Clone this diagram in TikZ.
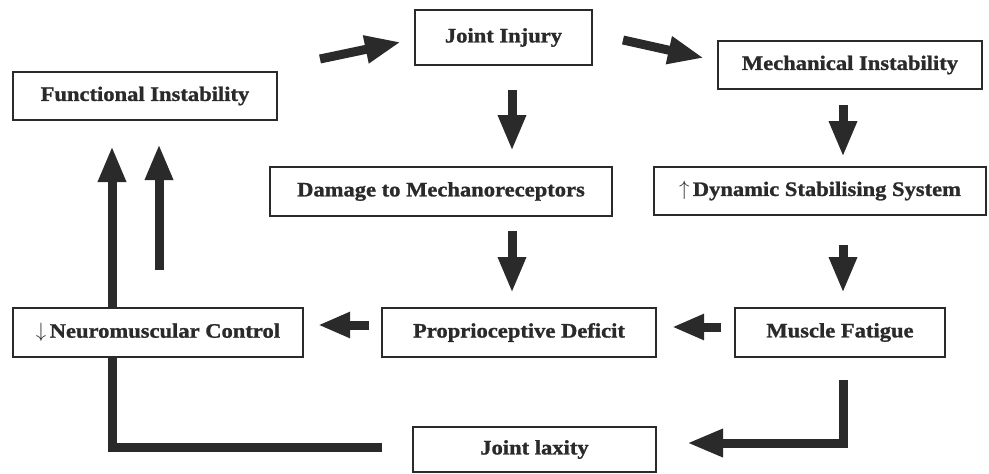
\documentclass[tikz,border=0pt]{standalone}
\usepackage{fontspec}
\setmainfont[FakeStretch=1.1,BoldFeatures={FakeBold=1.2}]{Liberation Serif}
\usetikzlibrary{arrows.meta}
\definecolor{ink}{HTML}{2A2A2A}
\begin{document}
\begin{tikzpicture}[x=1pt,y=-1pt,
  box/.style={draw=ink, line width=1.6pt, inner sep=0pt, text=ink,
    font=\fontsize{20.5}{22}\selectfont\bfseries},
  fat/.style={draw=ink, line width=9pt, line join=miter,
    -{Triangle[width=26pt,length=36pt]}},
  short/.style={draw=ink, line width=9pt,
    -{Triangle[width=24pt,length=32pt]}},
  bar/.style={draw=ink, line width=9pt, line join=miter}]
\useasboundingbox (0,0) rectangle (989,474);
% boxes
\node[box, minimum width=177pt, minimum height=55pt] (ji) at (503.5,37.5) {Joint Injury};
\node[box, minimum width=264pt, minimum height=48pt] (fi) at (145,96) {Functional Instability};
\node[box, minimum width=264pt, minimum height=48pt] (mi) at (850,65) {Mechanical Instability};
\node[box, minimum width=342pt, minimum height=49pt] (dm) at (441,191.5) {Damage to Mechanoreceptors};
\node[box, minimum width=332pt, minimum height=48pt] (ds) at (820,191) {$\uparrow$\,Dynamic Stabilising System};
\node[box, minimum width=290pt, minimum height=49pt] (nc) at (158,332.5) {$\downarrow$\,Neuromuscular Control};
\node[box, minimum width=274pt, minimum height=49pt] (pd) at (519,332.5) {Proprioceptive Deficit};
\node[box, minimum width=210pt, minimum height=49pt] (mf) at (840,332.5) {Muscle Fatigue};
\node[box, minimum width=243pt, minimum height=45pt] (jl) at (534.5,449.5) {Joint laxity};
% arrow end points
\coordinate (a1s) at (320,59);  \coordinate (a1e) at (401,42);
\coordinate (a2s) at (623,40);  \coordinate (a2e) at (704,58);
\coordinate (a3s) at (512,90);  \coordinate (a3e) at (512,151);
\coordinate (a4s) at (843,105); \coordinate (a4e) at (843,157);
\coordinate (a5s) at (512,231); \coordinate (a5e) at (512,293);
\coordinate (a6s) at (843,245); \coordinate (a6e) at (843,293);
\coordinate (a7s) at (721,327); \coordinate (a7e) at (672,327);
\coordinate (a8s) at (369,325); \coordinate (a8e) at (318,325);
\coordinate (a9s) at (843,380); \coordinate (a9c) at (843,443); \coordinate (a9e) at (687,443);
\coordinate (lxs) at (382,447); \coordinate (lxc) at (112,447);
\coordinate (upl) at (112,146);
\coordinate (ur1) at (159,270); \coordinate (ur2) at (159,144);
% connectors
\draw[fat] (a1s) -- (a1e);
\draw[fat] (a2s) -- (a2e);
\draw[fat] (a3s) -- (a3e);
\draw[fat] (a4s) -- (a4e);
\draw[fat] (a5s) -- (a5e);
\draw[fat] (a6s) -- (a6e);
\draw[short] (a7s) -- (a7e);
\draw[short] (a8s) -- (a8e);
\draw[fat] (a9s) -- (a9c) -- (a9e);
\draw[bar] (lxs) -- (lxc) -- (lxc |- nc.south);
\draw[fat] (upl |- nc.north) -- (upl);
\draw[fat] (ur1) -- (ur2);
\end{tikzpicture}
\end{document}
